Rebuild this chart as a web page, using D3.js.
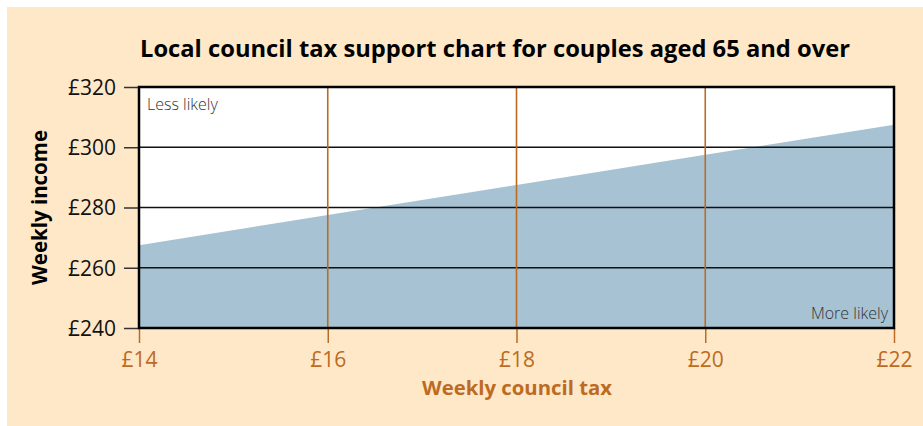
<!DOCTYPE html>
<html>
<head>
<meta charset="utf-8">
<script src="https://cdn.jsdelivr.net/npm/d3@7"></script>
<style>
  html, body { margin: 0; padding: 0; background: #ffffff; }
  svg { display: block; }
  text { font-family: "Open Sans", "Noto Sans", sans-serif; }
</style>
</head>
<body>
<svg id="chart" width="923" height="426"></svg>
<script>
// ---- data ----
const councilTax = [14, 16, 18, 20, 22];              // x values (£ per week)
const incomeThreshold = [267.5, 277.5, 287.5, 297.5, 307.5]; // y values (£ per week)
const xTickValues = [14, 16, 18, 20, 22];
const yTickValues = [240, 260, 280, 300, 320];
const title = "Local council tax support chart for couples aged 65 and over";
const xTitle = "Weekly council tax";
const yTitle = "Weekly income";
const lessLabel = "Less likely";
const moreLabel = "More likely";

// ---- layout ----
const W = 923, H = 426;
const margin = { left: 139, right: 29, top: 87, bottom: 98 };
const innerW = W - margin.left - margin.right;
const innerH = H - margin.top - margin.bottom;
const orange = "#bd6a22";
const svg = d3.select("#chart");

svg.append("rect").attr("x", 7).attr("y", 7).attr("width", W - 7).attr("height", H - 7)
  .attr("fill", "#fee8c7");

const x = d3.scaleLinear().domain([14, 22]).range([0, innerW]);
const y = d3.scaleLinear().domain([240, 320]).range([innerH, 0]);

const g = svg.append("g").attr("transform", `translate(${margin.left},${margin.top})`);

g.append("rect").attr("width", innerW).attr("height", innerH).attr("fill", "#ffffff");

const pts = councilTax.map((d, i) => ({ x: d, y: incomeThreshold[i] }));
const area = d3.area().x(d => x(d.x)).y0(y(240)).y1(d => y(d.y));
g.append("path").datum(pts).attr("d", area).attr("fill", "#a7c3d3");

// horizontal grid
g.selectAll(".hgrid").data(yTickValues.filter(v => v > 240 && v < 320)).enter()
  .append("line")
  .attr("x1", 0).attr("x2", innerW)
  .attr("y1", d => y(d)).attr("y2", d => y(d))
  .attr("stroke", "#111").attr("stroke-width", 1.5);

// vertical grid
g.selectAll(".vgrid").data(xTickValues.filter(v => v > 14 && v < 22)).enter()
  .append("line")
  .attr("y1", 0).attr("y2", innerH)
  .attr("x1", d => x(d)).attr("x2", d => x(d))
  .attr("stroke", orange).attr("stroke-width", 1.6);

// y axis
const yAxis = d3.axisLeft(y).tickValues(yTickValues).tickFormat(d => "£" + d)
  .tickSize(15).tickPadding(8);
const yg = g.append("g").call(yAxis);
yg.select(".domain").remove();
yg.selectAll(".tick line").attr("stroke", "#333").attr("stroke-width", 1.5);
yg.selectAll(".tick text").attr("font-size", 21).attr("fill", "#111")
  .attr("font-family", "'Open Sans', sans-serif").attr("dy", "0.35em");

// x axis
const xAxis = d3.axisBottom(x).tickValues(xTickValues).tickFormat(d => "£" + d)
  .tickSize(15).tickPadding(9);
const xg = g.append("g").attr("transform", `translate(0,${innerH})`).call(xAxis);
xg.select(".domain").remove();
xg.selectAll(".tick line").attr("stroke", orange).attr("stroke-width", 1.5);
xg.selectAll(".tick text").attr("font-size", 21).attr("fill", orange)
  .attr("font-family", "'Open Sans', sans-serif");

// border
g.append("rect").attr("width", innerW).attr("height", innerH)
  .attr("fill", "none").attr("stroke", "#000").attr("stroke-width", 2.5);

// labels in plot
g.append("text").attr("x", 8).attr("y", 23).attr("font-size", 16).attr("fill", "#333")
  .attr("font-weight", 300).text(lessLabel);
g.append("text").attr("x", innerW - 6).attr("y", innerH - 9).attr("text-anchor", "end")
  .attr("font-size", 16).attr("fill", "#333").attr("font-weight", 300).text(moreLabel);

// title
svg.append("text").attr("x", 495).attr("y", 57).attr("text-anchor", "middle")
  .attr("font-size", 23).attr("font-weight", "bold").attr("fill", "#000")
  .attr("textLength", 710).attr("lengthAdjust", "spacingAndGlyphs")
  .text(title);

// axis titles
svg.append("text").attr("x", 517).attr("y", 395).attr("text-anchor", "middle")
  .attr("font-size", 20).attr("font-weight", "bold").attr("fill", orange)
  .attr("textLength", 190).attr("lengthAdjust", "spacingAndGlyphs")
  .text(xTitle);

svg.append("text").attr("transform", "translate(47,207.5) rotate(-90)")
  .attr("text-anchor", "middle")
  .attr("font-size", 21).attr("font-weight", "bold").attr("fill", "#000")
  .attr("textLength", 155).attr("lengthAdjust", "spacingAndGlyphs")
  .text(yTitle);
</script>
</body>
</html>
